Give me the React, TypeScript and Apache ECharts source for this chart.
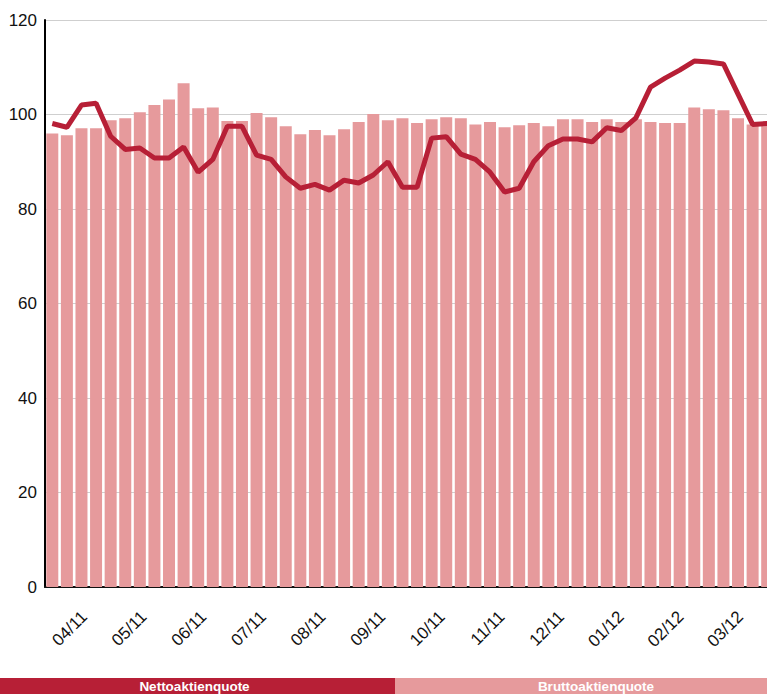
import React, { useEffect, useRef } from "react";
import * as echarts from "echarts";

const weeks: string[] = [
  "W01", "W02", "W03", "W04", "W05", "W06", "W07", "W08", "W09", "W10",
  "W11", "W12", "W13", "W14", "W15", "W16", "W17", "W18", "W19", "W20",
  "W21", "W22", "W23", "W24", "W25", "W26", "W27", "W28", "W29", "W30",
  "W31", "W32", "W33", "W34", "W35", "W36", "W37", "W38", "W39", "W40",
  "W41", "W42", "W43", "W44", "W45", "W46", "W47", "W48", "W49", "W50",
];

const brutto: number[] = [
  96.0, 95.6, 97.1, 97.1, 98.8, 99.2, 100.5, 102.0, 103.2, 106.6,
  101.3, 101.5, 98.6, 98.6, 100.3, 99.4, 97.5, 95.8, 96.7, 95.6,
  96.9, 98.4, 100.1, 98.8, 99.2, 98.2, 99.0, 99.4, 99.2, 97.9,
  98.4, 97.3, 97.7, 98.2, 97.5, 99.0, 99.0, 98.4, 99.0, 98.4,
  99.0, 98.4, 98.2, 98.2, 101.5, 101.1, 100.9, 99.2, 97.9, 97.9,
];

const netto: number[] = [
  98.1, 97.3, 102.0, 102.4, 95.4, 92.6, 92.9, 90.8, 90.8, 93.1,
  87.8, 90.5, 97.5, 97.5, 91.4, 90.5, 86.8, 84.4, 85.2, 84.0,
  86.1, 85.5, 87.2, 90.0, 84.6, 84.6, 95.0, 95.3, 91.6, 90.5,
  87.8, 83.6, 84.4, 90.0, 93.4, 94.8, 94.8, 94.2, 97.2, 96.6,
  99.3, 105.8, 107.7, 109.4, 111.3, 111.1, 110.7, 104.3, 97.9, 98.1,
];

const monthLabels: string[] = [
  "04/11", "05/11", "06/11", "07/11", "08/11", "09/11",
  "10/11", "11/11", "12/11", "01/12", "02/12", "03/12",
];

const yTicks = { min: 0, max: 120, interval: 20 };

const DARK = "#B71F36";
const PINK = "#E69A9C";
const FONT = "Liberation Sans, Arial, sans-serif";

export default function App() {
  const ref = useRef<HTMLDivElement>(null);

  useEffect(() => {
    if (!ref.current) return;
    const chart = echarts.init(ref.current, undefined, { renderer: "svg" });
    const option: any = {
      animation: false,
      backgroundColor: "#ffffff",
      textStyle: { fontFamily: FONT },
      grid: [
        { left: 45, top: 20, width: 729.5, height: 567 },
        { left: 24.6, top: 20, width: 787.8, height: 567 },
      ],
      xAxis: [
        {
          type: "category",
          gridIndex: 0,
          data: weeks,
          axisLine: { show: true, lineStyle: { color: "#111", width: 2 } },
          axisTick: { show: false },
          axisLabel: { show: false },
          splitLine: { show: false },
        },
        {
          type: "value",
          gridIndex: 1,
          min: 0,
          max: monthLabels.length + 1,
          interval: 1,
          axisLine: { show: false },
          axisTick: { show: false },
          splitLine: { show: false },
          axisLabel: {
            show: true,
            rotate: 45,
            margin: 27,
            fontSize: 17,
            color: "#111",
            fontFamily: FONT,
            showMinLabel: false,
            showMaxLabel: false,
            formatter: (v: number) => monthLabels[Math.round(v) - 1] || "",
          },
        },
      ],
      yAxis: [
        {
          type: "value",
          gridIndex: 0,
          min: yTicks.min,
          max: yTicks.max,
          interval: yTicks.interval,
          axisLine: { show: true, lineStyle: { color: "#000", width: 2 } },
          axisTick: { show: false },
          axisLabel: { fontSize: 17, color: "#111", margin: 8, fontFamily: FONT },
          splitLine: { show: true, lineStyle: { color: "#cfcfcf", width: 1 } },
        },
        {
          type: "value",
          gridIndex: 1,
          min: 0,
          max: 1,
          show: false,
        },
      ],
      graphic: [
        { type: "rect", shape: { x: 0, y: 678, width: 395, height: 20 }, style: { fill: DARK } },
        { type: "rect", shape: { x: 395, y: 678, width: 405, height: 20 }, style: { fill: PINK } },
        {
          type: "text",
          x: 194.5,
          y: 686.5,
          style: {
            text: "Nettoaktienquote",
            fill: "#ffffff",
            font: "bold 13.5px " + FONT,
            textAlign: "center",
            textVerticalAlign: "middle",
          },
        },
        {
          type: "text",
          x: 596,
          y: 686.5,
          style: {
            text: "Bruttoaktienquote",
            fill: "#ffffff",
            font: "bold 13.5px " + FONT,
            textAlign: "center",
            textVerticalAlign: "middle",
          },
        },
      ],
      series: [
        {
          name: "Bruttoaktienquote",
          type: "bar",
          xAxisIndex: 0,
          yAxisIndex: 0,
          data: brutto,
          barWidth: 12,
          itemStyle: { color: PINK },
          z: 2,
        },
        {
          name: "Nettoaktienquote",
          type: "line",
          xAxisIndex: 0,
          yAxisIndex: 0,
          data: netto,
          showSymbol: false,
          symbol: "none",
          lineStyle: { color: DARK, width: 5 },
          itemStyle: { color: DARK },
          z: 3,
        },
      ],
    };
    chart.setOption(option);
    return () => chart.dispose();
  }, []);

  return (
    <div
      ref={ref}
      style={{ position: "fixed", left: 0, top: 0, width: 800, height: 694 }}
    />
  );
}
